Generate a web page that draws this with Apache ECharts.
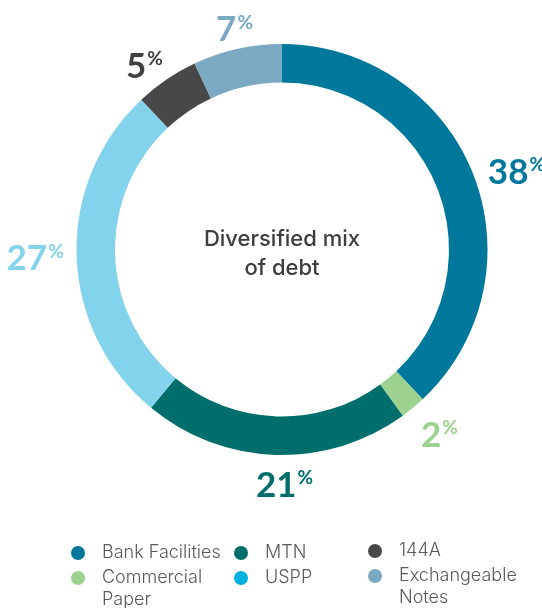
<!DOCTYPE html>
<html>
<head>
<meta charset="utf-8">
<script src="https://cdn.jsdelivr.net/npm/echarts@6/dist/echarts.min.js"></script>
<style>
html,body{margin:0;padding:0;background:#fff;}
#chart{width:542px;height:608px;}
</style>
</head>
<body>
<div id="chart"></div>
<script>
// ---- data ----
const categories = ['Bank Facilities', 'Commercial Paper', 'MTN', 'USPP', '144A', 'Exchangeable Notes'];
const shares = [38, 2, 21, 27, 5, 7];
const legendLabels = ['Bank Facilities', 'Commercial\nPaper', 'MTN', 'USPP', '144A', 'Exchangeable\nNotes'];
const centerTitle = 'Diversified mix\nof debt';

// ---- styles ----
const sliceColors = ['#00789C', '#9DD18F', '#006E6B', '#82D3EB', '#48484A', '#7BA9C2'];
const labelColors = ['#00789C', '#9DD18F', '#006E6B', '#82D3EB', '#404042', '#7BA9C2'];
const legendColors = ['#00789C', '#9DD18F', '#006E6B', '#00B0DF', '#48484A', '#7BA9C2'];
// small nudges of the percentage labels away from a pure radial placement
const labelNudge = [[15, 10], [7, 4], [10, 0], [-11, 2], [-5, 12], [4, 11]];

const chart = echarts.init(document.getElementById('chart'));

const ringData = categories.map((c, i) => ({ name: c, value: shares[i], itemStyle: { color: sliceColors[i] } }));
const labelData = categories.map((c, i) => ({
  name: c, value: shares[i],
  label: { color: labelColors[i], offset: labelNudge[i] }
}));

// multi-line legend names: a leading blank line keeps the first line level with the icon
function legendText(name) {
  const t = legendLabels[categories.indexOf(name)];
  return t.indexOf('\n') >= 0 ? '\n' + t : t;
}

function legendFor(idx, left, top, gap) {
  return {
    orient: 'vertical',
    left: left, top: top, height: 120, padding: 0,
    itemWidth: 14, itemHeight: 14, itemGap: gap,
    icon: 'circle',
    selectedMode: false,
    formatter: legendText,
    textStyle: { fontFamily: 'Inter', fontWeight: 300, fontSize: 18, lineHeight: 22, color: '#595959', padding: [0, 0, 0, 12] },
    data: idx.map(i => ({ name: categories[i], itemStyle: { color: legendColors[i] } }))
  };
}

chart.setOption({
  animation: false,
  legend: [
    legendFor([0, 1], 71, 542, -19),
    legendFor([2, 3], 234, 542, 3),
    legendFor([4, 5], 368, 540, -19)
  ],
  graphic: [{
    type: 'text',
    x: 282, y: 254,
    style: {
      text: centerTitle,
      textAlign: 'center', textVerticalAlign: 'middle',
      fontFamily: 'Inter', fontWeight: 500, fontSize: 22, lineHeight: 29,
      fill: '#3d3d3d'
    }
  }],
  series: [
    {
      type: 'pie',
      center: [282, 249.5],
      radius: [167, 205.5],
      startAngle: 90,
      clockwise: true,
      silent: true,
      label: { show: false },
      labelLine: { show: false },
      data: ringData
    },
    {
      type: 'pie',
      center: [282, 249.5],
      radius: [232, 234],
      startAngle: 90,
      clockwise: true,
      silent: true,
      itemStyle: { color: 'rgba(0,0,0,0)' },
      labelLine: { show: false },
      label: {
        show: true,
        position: 'inside',
        rotate: 0,
        formatter: p => '{n|' + p.value + '}{p|%}',
        rich: {
          n: { fontFamily: 'Lato', fontWeight: 'bold', fontSize: 35, lineHeight: 40 },
          p: { fontFamily: 'Lato', fontWeight: 'bold', fontSize: 19, lineHeight: 26, verticalAlign: 'top', padding: [3, 0, 0, 1] }
        }
      },
      data: labelData
    }
  ]
});
</script>
</body>
</html>
